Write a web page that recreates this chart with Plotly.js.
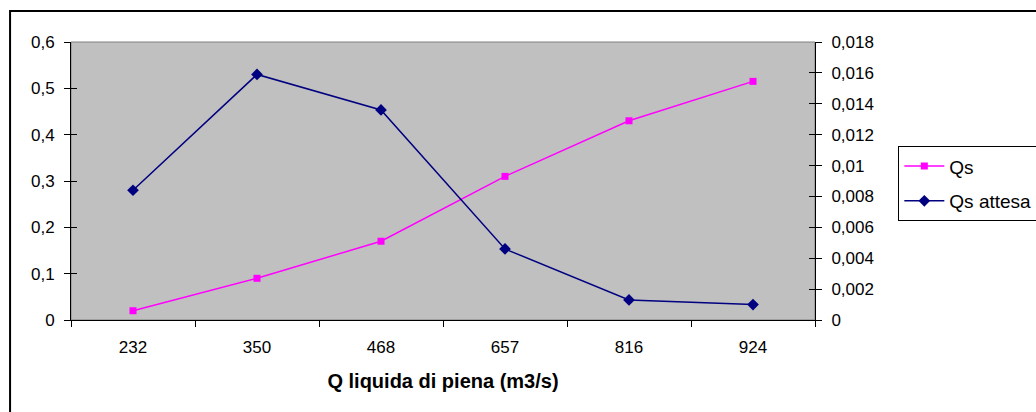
<!DOCTYPE html>
<html>
<head>
<meta charset="utf-8">
<script src="https://cdn.plot.ly/plotly-3.0.1.min.js"></script>
<style>
  html, body { margin: 0; padding: 0; background: #ffffff; }
  #chart { width: 1036px; height: 412px; }
</style>
</head>
<body>
<div id="chart"></div>
<script>
// ---- data ----
const categories = ['232', '350', '468', '657', '816', '924'];
const qs = [0.02, 0.09, 0.17, 0.31, 0.43, 0.515];
const qsAttesa = [0.0084, 0.0159, 0.0136, 0.0046, 0.0013, 0.001];
const leftTicks = [0, 0.1, 0.2, 0.3, 0.4, 0.5, 0.6];
const rightTicks = [0, 0.002, 0.004, 0.006, 0.008, 0.01, 0.012, 0.014, 0.016, 0.018];
const xTitle = 'Q liquida di piena (m3/s)';

const FONT = 'Arial, "Liberation Sans", sans-serif';
const boundaries = categories.map((_, i) => i - 0.5).concat([categories.length - 0.5]);
const xIdx = categories.map((_, i) => i);

const traces = [
  {
    name: 'Qs', x: xIdx, y: qs, xaxis: 'x', yaxis: 'y',
    type: 'scatter', mode: 'lines+markers',
    line: { color: '#FF00FF', width: 1.5 },
    marker: { symbol: 'square', size: 7, color: '#FF00FF' },
    legendgroup: 'a'
  },
  {
    name: 'Qs attesa', x: xIdx, y: qsAttesa, xaxis: 'x', yaxis: 'y2',
    type: 'scatter', mode: 'lines+markers',
    line: { color: '#000080', width: 1.5 },
    marker: { symbol: 'diamond', size: 9, color: '#000080' },
    legendgroup: 'b'
  },
  // invisible helpers so the inner half of the crossing tick marks is drawn
  { x: [], y: [], xaxis: 'x2', yaxis: 'y3', showlegend: false, hoverinfo: 'skip' },
  { x: [], y: [], xaxis: 'x2', yaxis: 'y4', showlegend: false, hoverinfo: 'skip' }
];

const xRange = [-0.5, categories.length - 0.5];

const layout = {
  width: 1036, height: 412,
  margin: { l: 71, r: 221, t: 42, b: 92, autoexpand: false },
  paper_bgcolor: '#ffffff',
  plot_bgcolor: '#C0C0C0',
  separators: ', ',
  font: { family: FONT, size: 17, color: '#000000' },
  showlegend: true,
  legend: {
    x: 1.112, xanchor: 'left', y: 0.625, yanchor: 'top',
    bgcolor: '#ffffff', bordercolor: '#000000', borderwidth: 1,
    font: { family: FONT, size: 19, color: '#000000' },
    itemwidth: 40,
    traceorder: 'grouped', tracegroupgap: 7
  },
  xaxis: {
    range: xRange, tickvals: xIdx, ticktext: categories,
    showgrid: false, zeroline: false,
    showline: true, linecolor: '#000000', linewidth: 1,
    ticks: '', ticklen: 0, ticklabelstandoff: 12,
    tickfont: { family: FONT, size: 17 },
    title: { text: xTitle, font: { family: FONT, size: 20, weight: 'bold' }, standoff: 17 },
    fixedrange: true
  },
  xaxis2: {
    overlaying: 'x', range: xRange, tickvals: boundaries,
    showticklabels: false, showgrid: false, zeroline: false, showline: false,
    ticks: 'outside', ticklen: 6, tickcolor: '#000000', tickwidth: 1, side: 'bottom'
  },
  yaxis: {
    range: [0, 0.6], tickvals: leftTicks,
    showgrid: false, zeroline: false,
    showline: true, linecolor: '#000000', linewidth: 1,
    ticks: 'outside', ticklen: 6, tickcolor: '#000000',
    tickfont: { family: FONT, size: 17 }, ticklabelstandoff: 6
  },
  yaxis2: {
    overlaying: 'y', side: 'right', range: [0, 0.018], tickvals: rightTicks,
    showgrid: false, zeroline: false,
    showline: true, linecolor: '#000000', linewidth: 1,
    ticks: 'outside', ticklen: 6, tickcolor: '#000000',
    tickfont: { family: FONT, size: 17 }, ticklabelstandoff: 6
  },
  yaxis3: {
    overlaying: 'y', side: 'left', range: [0, 0.6], tickvals: leftTicks,
    showticklabels: false, showgrid: false, zeroline: false, showline: false,
    ticks: 'inside', ticklen: 6, tickcolor: '#000000'
  },
  yaxis4: {
    overlaying: 'y', side: 'right', range: [0, 0.018], tickvals: rightTicks,
    showticklabels: false, showgrid: false, zeroline: false, showline: false,
    ticks: 'inside', ticklen: 6, tickcolor: '#000000'
  },
  shapes: [
    { type: 'rect', xref: 'paper', yref: 'paper', x0: 0, x1: 1, y0: 0, y1: 1,
      line: { color: '#808080', width: 1 }, layer: 'below' },
    { type: 'rect', xref: 'paper', yref: 'paper', x0: -0.0819, x1: 1.35, y0: -0.45, y1: 1.1115,
      line: { color: '#000000', width: 2 }, fillcolor: 'rgba(0,0,0,0)', layer: 'above' }
  ]
};

Plotly.newPlot('chart', traces, layout, { displayModeBar: false, staticPlot: true });
</script>
</body>
</html>
